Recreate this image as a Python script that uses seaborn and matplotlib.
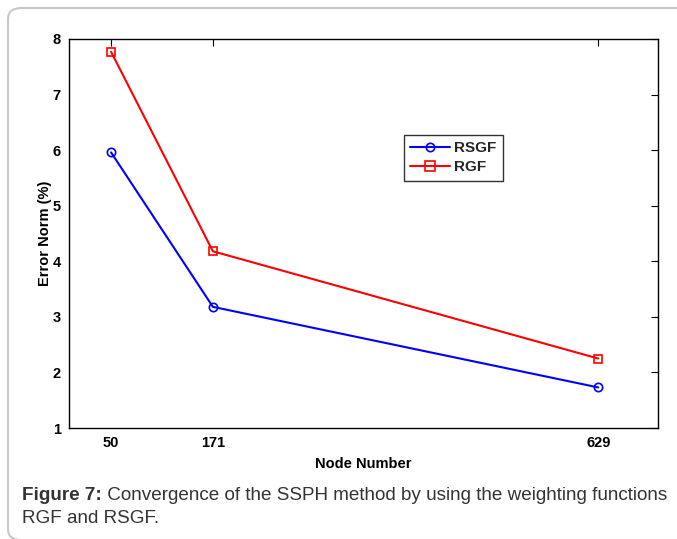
import pandas as pd
import numpy as np
import seaborn as sns
import matplotlib.pyplot as plt
from matplotlib.patches import FancyBboxPatch
from matplotlib.lines import Line2D

# data
nodes = [50, 171, 629]
rsgf = [5.96, 3.18, 1.73]
rgf = [7.77, 4.18, 2.25]
series_names = ["RSGF", "RGF"]

df = pd.DataFrame({
    "Node Number": nodes * 2,
    "Error Norm (%)": rsgf + rgf,
    "method": [series_names[0]] * 3 + [series_names[1]] * 3,
})

sns.set_style("white")
plt.rcParams['font.family'] = ['Liberation Sans', 'DejaVu Sans']

fig = plt.figure(figsize=(6.77, 5.39), dpi=100)
ax = fig.add_axes([69 / 677, 1 - 428 / 539, (658 - 69) / 677, (428 - 39) / 539])

sns.lineplot(data=df, x="Node Number", y="Error Norm (%)", hue="method",
             style="method", markers={"RSGF": "o", "RGF": "s"}, dashes=False,
             palette={"RSGF": "#0000ff", "RGF": "#ff0000"}, linewidth=1.5,
             markersize=6, markerfacecolor="none", markeredgewidth=1.2,
             ax=ax, legend=False)
for ln, c in zip(ax.lines, ["#0000ff", "#ff0000"]):
    ln.set_markeredgecolor(c)
    ln.set_markerfacecolor("none")

ax.set_xlim(0, 700)
ax.set_ylim(1, 8)
ax.set_xticks(nodes)
ax.set_xticklabels([str(n) for n in nodes], fontweight="bold", fontsize=10.5)
ax.set_yticks(range(1, 9))
ax.set_yticklabels([str(v) for v in range(1, 9)], fontweight="bold", fontsize=10.5)
ax.tick_params(direction="in", length=5, width=0.8, top=True, right=True,
               color="black", labelcolor="black", pad=6)
for s in ax.spines.values():
    s.set_color("black")
    s.set_linewidth(1.0)
ax.set_xlabel("Node Number", fontweight="bold", fontsize=10.5, labelpad=5,
              color="black")
ax.set_ylabel("Error Norm (%)", fontweight="bold", fontsize=10.5, labelpad=0,
              color="black")

# legend
handles = [
    Line2D([], [], color="#0000ff", marker="o", markersize=6, markerfacecolor="none",
           markeredgewidth=1.2, linewidth=1.5),
    Line2D([], [], color="#ff0000", marker="s", markersize=7, markerfacecolor="none",
           markeredgewidth=1.2, linewidth=1.5),
]
leg = ax.legend(handles, series_names, loc="upper left",
                bbox_to_anchor=((404 - 69) / 589, 1 - (135 - 39) / 389),
                frameon=True, fancybox=False, edgecolor="black",
                prop={"weight": "bold", "size": 11}, handlelength=2.6,
                borderpad=0.4, labelspacing=0.35, handletextpad=0.3,
                borderaxespad=0)
leg.get_frame().set_linewidth(1.0)

# rounded frame around figure + caption
frame = FancyBboxPatch((8 / 677, -1 / 539), 700 / 677, 532 / 539,
                       boxstyle="round,pad=0,rounding_size=0.02",
                       transform=fig.transFigure, facecolor="none",
                       edgecolor="#c8c8c8", linewidth=1.5, clip_on=False)
fig.patches.append(frame)

t1 = fig.text(22 / 677, 1 - 504 / 539, "Figure 7:", fontweight="bold",
              fontsize=13.6, color="#333333", va="bottom", ha="left")
ax.annotate(" Convergence of the SSPH method by using the weighting functions",
            xy=(1, 0), xycoords=t1, va="bottom", ha="left", fontsize=13.6,
            color="#333333", annotation_clip=False)
fig.text(22 / 677, 1 - 527 / 539, "RGF and RSGF.", fontsize=13.6,
         color="#333333", va="bottom", ha="left")

fig.savefig("out.png", dpi=100)
